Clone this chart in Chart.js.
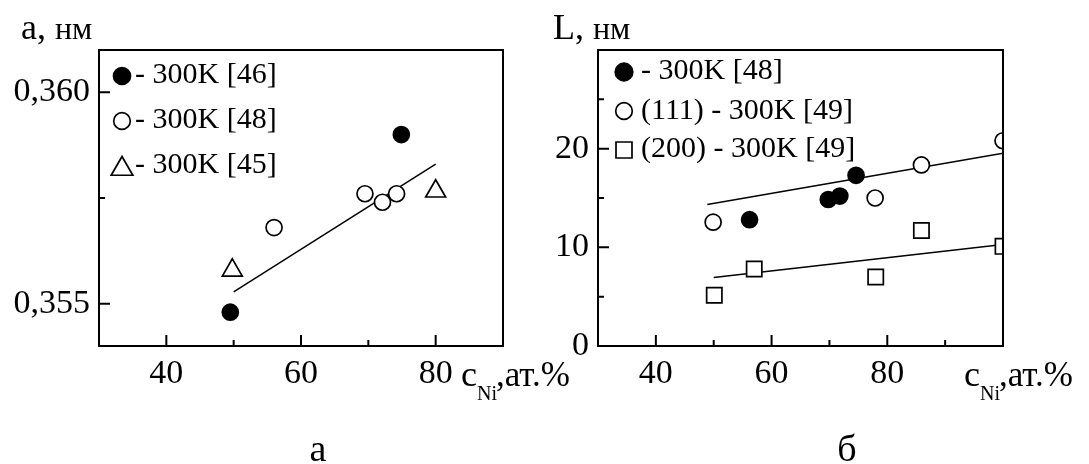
<!DOCTYPE html>
<html>
<head>
<meta charset="utf-8">
<script src="https://cdn.jsdelivr.net/npm/chart.js@4.4.1/dist/chart.umd.min.js"></script>
<style>
html,body{margin:0;padding:0;background:#fff;}
#wrap{position:relative;width:1089px;height:464px;overflow:hidden;background:#fff;}
canvas{position:absolute;top:0;}
#chartA{left:0;}
#chartB{left:540px;}
</style>
</head>
<body>
<div id="wrap">
<canvas id="chartA" width="600" height="464"></canvas>
<canvas id="chartB" width="549" height="464"></canvas>
</div>
<script>
// ---- panel a: lattice parameter ----
const xFilledA = [49.5, 74.9];
const yFilledA = [0.3548, 0.3590];
const xOpenA = [56.0, 69.5, 72.1, 74.2];
const yOpenA = [0.3568, 0.3576, 0.3574, 0.3576];
const xTriA = [49.8, 80.0];
const yTriA = [0.35579, 0.35766];
const xFitA = [50, 80];
const yFitA = [0.35528, 0.35830];
const labelsA = ['- 300K [46]', '- 300K [48]', '- 300K [45]'];
const xMajorA = [40, 60, 80];
const xMinorA = [50, 70];
const yMajorA = [0.355, 0.360];
const yMinorA = [0.3575];

// ---- panel б: crystallite size ----
const xFilledB = [56.2, 69.8, 71.8, 74.6];
const yFilledB = [12.8, 14.85, 15.2, 17.3];
const xOpenB = [49.9, 77.9, 85.9, 100];
const yOpenB = [12.55, 15.0, 18.35, 20.8];
const xSquareB = [50.1, 57.0, 78.0, 85.9, 100];
const ySquareB = [5.15, 7.8, 7.0, 11.7, 10.1];
const xFitB1 = [48.9, 100];
const yFitB1 = [14.34, 19.53];
const xFitB2 = [50, 100];
const yFitB2 = [6.94, 10.3];
const labelsB = ['- 300K [48]', '(111) - 300K [49]', '(200) - 300K [49]'];
const xMajorB = [40, 60, 80];
const xMinorB = [50, 70, 90];
const yMajorB = [0, 10, 20];
const yMinorB = [5, 15, 25];

const SERIF = '"Liberation Serif", "Times New Roman", serif';
const tickFont = {family: SERIF, size: 34};

function pts(xs, ys){
    return xs.map((x, i) => ({x: x, y: ys[i]}));
}

function markSet(label, xs, ys, style, r, filled, clip){
    return {
        label: label,
        data: pts(xs, ys),
        pointStyle: style,
        pointRadius: r,
        backgroundColor: filled ? '#000' : '#fff',
        borderColor: '#000',
        pointBorderWidth: 1.7,
        showLine: false,
        clip: clip,
        order: 0
    };
}

function fitSet(xs, ys){
    return {
        label: 'fit',
        data: pts(xs, ys),
        showLine: true,
        pointRadius: 0,
        borderColor: '#000',
        borderWidth: 1.5,
        order: 5
    };
}

function drawMark(ctx, style, r, x, y, filled){
    ctx.save();
    ctx.lineWidth = 1.7;
    ctx.strokeStyle = '#000';
    ctx.fillStyle = filled ? '#000' : '#fff';
    Chart.helpers.drawPoint(ctx, {pointStyle: style, radius: r, rotation: 0, borderWidth: 1.7}, x, y);
    ctx.restore();
}

// frame, inward ticks, legend and axis titles
function decor(cfg){
    return {
        id: 'decor',
        afterDraw(chart){
            const ctx = chart.ctx;
            const a = chart.chartArea;
            const xs = chart.scales.x, ys = chart.scales.y;
            ctx.save();
            ctx.strokeStyle = '#000';
            ctx.lineWidth = 2;
            ctx.strokeRect(a.left, a.top, a.right - a.left, a.bottom - a.top);

            ctx.beginPath();
            cfg.xMajor.concat(cfg.xMinor).forEach(v => {
                const len = cfg.xMajor.includes(v) ? 11 : 6;
                const p = xs.getPixelForValue(v);
                ctx.moveTo(p, a.bottom);
                ctx.lineTo(p, a.bottom - len);
            });
            cfg.yMajor.concat(cfg.yMinor).forEach(v => {
                const len = cfg.yMajor.includes(v) ? 11 : 6;
                const p = ys.getPixelForValue(v);
                ctx.moveTo(a.left, p);
                ctx.lineTo(a.left + len, p);
            });
            ctx.stroke();

            // legend
            ctx.fillStyle = '#000';
            ctx.textBaseline = 'alphabetic';
            ctx.textAlign = 'left';
            ctx.font = '30px ' + SERIF;
            cfg.legend.forEach(e => {
                drawMark(ctx, e.style, e.r, cfg.legX, e.my, e.filled);
                ctx.fillStyle = '#000';
                ctx.fillText(e.text, cfg.legTextX, e.ty);
            });

            // y title
            ctx.font = '36px ' + SERIF;
            ctx.fillText(cfg.yTitle[0], cfg.yTitleX, 39);
            let w = ctx.measureText(cfg.yTitle[0] + ' ').width;
            ctx.font = '32px ' + SERIF;
            ctx.fillText(cfg.yTitle[1], cfg.yTitleX + w, 39);

            // x title  c_Ni,ат.%
            let x = cfg.xTitleX;
            ctx.font = '36px ' + SERIF;
            ctx.fillText('c', x, 386);
            x += ctx.measureText('c').width;
            ctx.font = '20px ' + SERIF;
            ctx.fillText('Ni', x, 400);
            x += ctx.measureText('Ni').width;
            ctx.font = '35px ' + SERIF;
            ctx.fillText(',ат.%', x - 1, 386);

            // panel letter
            ctx.font = '38px ' + SERIF;
            ctx.textAlign = 'center';
            ctx.fillText(cfg.panel, cfg.panelX, 461);
            ctx.restore();
        }
    };
}

function makeChart(id, datasets, sc, pad, decorCfg){
    return new Chart(document.getElementById(id), {
        type: 'scatter',
        data: {datasets: datasets},
        options: {
            responsive: false,
            animation: false,
            events: [],
            layout: {padding: pad},
            plugins: {legend: {display: false}, tooltip: {enabled: false}},
            scales: {
                x: {
                    type: 'linear', min: sc.xMin, max: sc.xMax,
                    grid: {display: false, drawTicks: false},
                    border: {display: false},
                    afterBuildTicks: s => { s.ticks = sc.xMajor.map(v => ({value: v})); },
                    afterFit: s => { s.height = 50; },
                    ticks: {font: tickFont, color: '#000', padding: 8, maxRotation: 0, autoSkip: false,
                        callback: v => String(v)}
                },
                y: {
                    type: 'linear', min: sc.yMin, max: sc.yMax,
                    grid: {display: false, drawTicks: false},
                    border: {display: false},
                    afterBuildTicks: s => { s.ticks = sc.yMajor.map(v => ({value: v})); },
                    afterFit: s => { s.width = sc.yWidth; },
                    ticks: {font: tickFont, color: '#000', padding: 9, autoSkip: false,
                        callback: sc.yFmt}
                }
            }
        },
        plugins: [decor(decorCfg)]
    });
}

makeChart('chartA', [
    markSet(labelsA[0], xFilledA, yFilledA, 'circle', 8, true, false),
    markSet(labelsA[1], xOpenA, yOpenA, 'circle', 8, false, false),
    markSet(labelsA[2], xTriA, yTriA, 'triangle', 11.5, false, false),
    fitSet(xFitA, yFitA)
], {
    xMin: 30, xMax: 90, yMin: 0.354, yMax: 0.361,
    xMajor: xMajorA, yMajor: yMajorA, yWidth: 99,
    yFmt: v => v.toFixed(3).replace('.', ',')
}, {top: 50, left: 0, right: 97, bottom: 68}, {
    xMajor: xMajorA, xMinor: xMinorA, yMajor: yMajorA, yMinor: yMinorA,
    legX: 122, legTextX: 135,
    legend: [
        {text: labelsA[0], style: 'circle', r: 8.5, filled: true, my: 76, ty: 83},
        {text: labelsA[1], style: 'circle', r: 8.3, filled: false, my: 121, ty: 128},
        {text: labelsA[2], style: 'triangle', r: 12.5, filled: false, my: 169, ty: 173}
    ],
    yTitle: ['a,', 'нм'], yTitleX: 21,
    xTitleX: 461,
    panel: 'а', panelX: 318
});

makeChart('chartB', [
    markSet(labelsB[0], xFilledB, yFilledB, 'circle', 8, true, 0),
    markSet(labelsB[1], xOpenB, yOpenB, 'circle', 8, false, 0),
    markSet(labelsB[2], xSquareB, ySquareB, 'rect', 10.8, false, 0),
    fitSet(xFitB1, yFitB1),
    fitSet(xFitB2, yFitB2)
], {
    xMin: 30, xMax: 100, yMin: 0, yMax: 30,
    xMajor: xMajorB, yMajor: yMajorB, yWidth: 58,
    yFmt: v => String(v)
}, {top: 50, left: 0, right: 86, bottom: 68}, {
    xMajor: xMajorB, xMinor: xMinorB, yMajor: yMajorB, yMinor: yMinorB,
    legX: 84, legTextX: 101,
    legend: [
        {text: labelsB[0], style: 'circle', r: 8.8, filled: true, my: 72, ty: 79},
        {text: labelsB[1], style: 'circle', r: 8.3, filled: false, my: 111, ty: 119},
        {text: labelsB[2], style: 'rect', r: 11.3, filled: false, my: 150, ty: 157}
    ],
    yTitle: ['L,', 'нм'], yTitleX: 13,
    xTitleX: 424,
    panel: 'б', panelX: 307
});
</script>
</body>
</html>
